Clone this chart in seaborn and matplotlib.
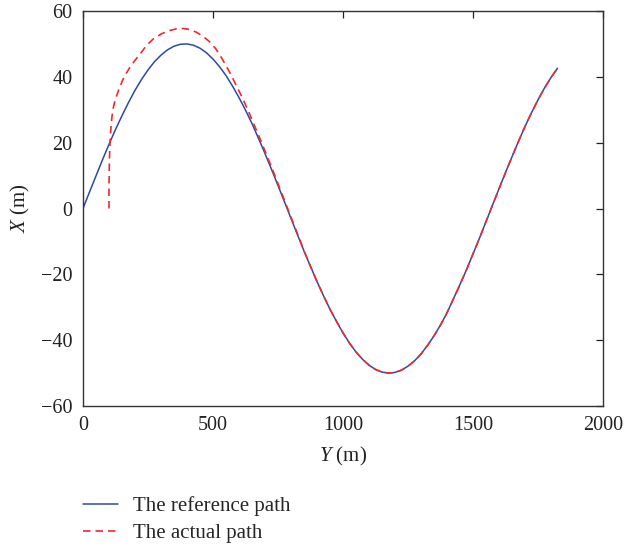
import matplotlib
matplotlib.use("Agg")
import matplotlib.pyplot as plt
import seaborn as sns
import pandas as pd

# Reference path, Y in m, X in m
ref_y = [0, 25, 50, 75, 100, 125, 150, 175, 200, 225, 250, 275, 300, 325, 350, 375,
         400, 425, 450, 475, 500, 525, 550, 575, 600, 625, 650, 675, 700, 725, 750,
         775, 800, 825, 850, 875, 900, 925, 950, 975, 1000, 1025, 1050, 1075, 1100,
         1125, 1150, 1175, 1200, 1225, 1250, 1275, 1300, 1325, 1350, 1375, 1400,
         1425, 1450, 1475, 1500, 1525, 1550, 1575, 1600, 1625, 1650, 1675, 1700,
         1725, 1750, 1775, 1800, 1825]
ref_x = [0.0, 5.0, 9.9, 14.8, 19.5, 24.0, 28.2, 32.2, 35.9, 39.2, 42.1, 44.6, 46.6,
         48.2, 49.3, 49.9, 50.0, 49.6, 48.7, 47.3, 45.4, 43.1, 40.4, 37.2, 33.7,
         29.9, 25.8, 21.3, 16.7, 11.9, 7.0, 2.0, -3.0, -8.0, -12.9, -17.6, -22.2,
         -26.5, -30.6, -34.3, -37.8, -40.9, -43.6, -45.8, -47.6, -48.9, -49.7,
         -50.0, -49.8, -49.1, -47.9, -46.3, -44.2, -41.6, -38.7, -35.4, -31.7,
         -27.4, -23.1, -18.6, -13.8, -9.0, -4.0, 1.0, 6.0, 10.9, 15.7, 20.4, 24.9,
         29.1, 33.0, 36.6, 39.8, 42.6]

# Actual path
act_y = [100, 100, 101, 102, 104, 107, 111, 116, 122, 130, 140, 152, 166, 182, 200,
         220, 245, 270, 300, 330, 360, 385, 410, 435, 460, 485, 510, 535, 560, 585,
         610, 635, 660, 685, 710, 735, 760, 785, 810, 835, 850, 875, 900, 925, 950,
         975, 1000, 1025, 1050, 1075, 1100, 1125, 1150, 1175, 1200, 1225, 1250,
         1275, 1300, 1325, 1350, 1375, 1400, 1425, 1450, 1475, 1500, 1525, 1550,
         1575, 1600, 1625, 1650, 1675, 1700, 1725, 1750, 1775, 1800, 1825]
act_x = [0.0, 6.0, 12.0, 16.0, 20.0, 24.0, 27.6, 30.4, 32.4, 34.4, 36.6, 38.9, 41.0,
         43.1, 45.0, 47.0, 49.6, 51.5, 53.0, 54.0, 54.6, 54.7, 54.4, 53.6, 52.4,
         50.8, 48.6, 45.5, 42.0, 38.1, 34.1, 29.8, 25.1, 20.4, 15.5, 10.6, 5.5,
         0.4, -4.7, -9.7, -12.9, -17.6, -22.2, -26.5, -30.6, -34.3, -37.8, -40.9,
         -43.6, -45.8, -47.6, -48.9, -49.7, -50.0, -49.8, -49.1, -47.9, -46.3,
         -44.2, -41.6, -38.7, -35.4, -31.7, -27.4, -23.1, -18.6, -13.8, -9.0, -4.0,
         1.0, 6.0, 10.9, 15.7, 20.4, 24.9, 29.1, 33.0, 36.6, 39.8, 42.6]

labels = ["The reference path", "The actual path"]

sns.set_style("white")
plt.rcParams["font.family"] = ["Liberation Serif", "DejaVu Serif"]
plt.rcParams["mathtext.fontset"] = "custom"
plt.rcParams["mathtext.it"] = "Liberation Serif:italic"
plt.rcParams["mathtext.rm"] = "Liberation Serif"
plt.rcParams["axes.unicode_minus"] = True

fig = plt.figure(figsize=(6.26, 5.46), dpi=100)
ax = fig.add_axes([83/626, 1-406/546, 520/626, 395/546])

df_ref = pd.DataFrame({"Y": ref_y, "X": ref_x})
df_act = pd.DataFrame({"Y": act_y, "X": act_x})

sns.lineplot(data=df_ref, x="Y", y="X", ax=ax, color="#2e4a9e", lw=1.1,
             sort=False, estimator=None, label=labels[0])
sns.lineplot(data=df_act, x="Y", y="X", ax=ax, color="#ee2a30", lw=1.2,
             sort=False, estimator=None, label=labels[1])
ax.lines[1].set_linestyle((0, (4.5, 3)))

ax.set_xlim(0, 2000)
ax.set_ylim(-60, 60)
ax.set_xticks([0, 500, 1000, 1500, 2000])
ax.set_yticks([-60, -40, -20, 0, 20, 40, 60])
ax.tick_params(direction="in", length=5, width=0.9, top=True, right=True,
               labelsize=14.5, colors="#222222", pad=7.5)
for s in ax.spines.values():
    s.set_color("#333333")
    s.set_linewidth(1.0)

ax.set_xlabel("$Y$ (m)", fontsize=15, color="#222222", labelpad=7)
ax.set_ylabel("$X$ (m)", fontsize=15, color="#222222", labelpad=6.5)

ax.get_legend().remove()
handles = ax.lines[:2]
fig.legend(handles, labels, loc="upper left", bbox_to_anchor=(83/626, 1-496/546),
           frameon=False, fontsize=15, handlelength=1.68, handletextpad=0.72,
           labelspacing=0.36, borderpad=0, borderaxespad=0)

fig.savefig("out.png", dpi=100)
